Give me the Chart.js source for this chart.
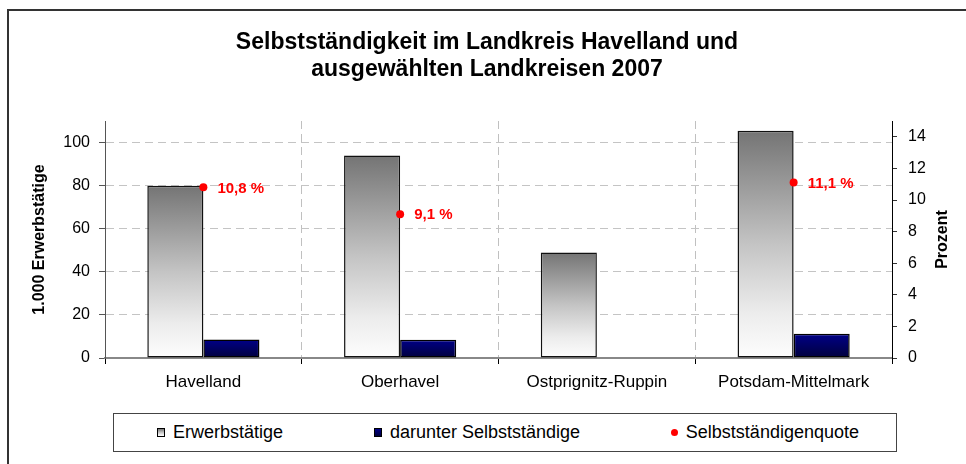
<!DOCTYPE html>
<html lang="de">
<head>
<meta charset="utf-8">
<title>Selbstständigkeit im Landkreis Havelland</title>
<script src="https://cdn.jsdelivr.net/npm/chart.js@4.4.1/dist/chart.umd.min.js"></script>
<style>
    html, body { margin: 0; padding: 0; background: #fff; overflow: hidden; }
    #page { position: relative; width: 966px; height: 464px; overflow: hidden; }
    #frame { position: absolute; left: 7px; top: 9px; width: 1100px; height: 600px;
             border-left: 2px solid #333; border-top: 2px solid #333; }
    #chart { position: absolute; left: 0; top: 0; }
    #legend { position: absolute; left: 113px; top: 413px; width: 784px; height: 39px;
              box-sizing: border-box; border: 1px solid #444; background: #fff;
              display: flex; align-items: center; justify-content: space-between;
              padding: 0 37px 0 43px;
              font: 18px 'Liberation Sans', Arial, sans-serif; color: #000; }
    #legend .item { display: flex; align-items: center; white-space: nowrap; }
    #legend .swatch { width: 8px; height: 9px; margin-right: 8px; box-sizing: border-box; border: 1px solid #000; }
    #legend .dot { width: 7px; height: 7px; margin-right: 8px; border-radius: 50%; }
</style>
</head>
<body>
<div id="page">
    <div id="frame"></div>
    <canvas id="chart" width="966" height="464"></canvas>
    <div id="legend"></div>
</div>
<script>
// Data
const categories = ['Havelland', 'Oberhavel', 'Ostprignitz-Ruppin', 'Potsdam-Mittelmark'];
const erwerbstaetige = [80, 94, 49, 105.5];       // 1.000 Erwerbstätige
const selbststaendige = [8.6, 8.5, null, 11.3];   // darunter Selbstständige
const quote = [10.8, 9.1, null, 11.1];            // Selbstständigenquote in %
const seriesLabels = ['Erwerbstätige', 'darunter Selbstständige', 'Selbstständigenquote'];
const titleLines = ['Selbstständigkeit im Landkreis Havelland und', 'ausgewählten Landkreisen 2007'];
const leftAxisTitle = '1.000 Erwerbstätige';
const rightAxisTitle = 'Prozent';
const leftMax = 110, leftStep = 20;
const rightMax = 15, rightStep = 2;

const FONT = "'Liberation Sans', Arial, sans-serif";
Chart.defaults.font.family = FONT;
Chart.defaults.color = '#000';

const grayStops = [[0, '#747474'], [0.5, '#c4c4c4'], [0.8, '#ececec'], [1, '#fdfdfd']];
const navyStops = [[0, '#000088'], [1, '#00003c']];

// vertical gradient per bar, from its top down to zero
function barGradient(stops) {
    return function(context) {
        const chart = context.chart;
        if (!chart.chartArea || context.raw == null) return stops[0][1];
        const scale = chart.scales.y;
        const top = scale.getPixelForValue(context.raw);
        const bottom = scale.getPixelForValue(0);
        const g = chart.ctx.createLinearGradient(0, top, 0, bottom);
        stops.forEach(s => g.addColorStop(s[0], s[1]));
        return g;
    };
}

// red percentage labels next to the points
const quoteLabels = {
    id: 'quoteLabels',
    afterDatasetsDraw(chart) {
        const meta = chart.getDatasetMeta(2);
        const ctx = chart.ctx;
        ctx.save();
        ctx.font = 'bold 15px ' + FONT;
        ctx.fillStyle = '#ff0000';
        ctx.textAlign = 'left';
        ctx.textBaseline = 'middle';
        meta.data.forEach((pt, i) => {
            const v = quote[i];
            if (v == null) return;
            ctx.fillText(v.toFixed(1).replace('.', ',') + ' %', pt.x + 14, pt.y + 1);
        });
        ctx.restore();
    }
};

// right axis title, reading bottom to top
const rightTitle = {
    id: 'rightTitle',
    afterDraw(chart) {
        const area = chart.chartArea;
        const ctx = chart.ctx;
        ctx.save();
        ctx.translate(chart.scales.y1.right - 23, (area.top + area.bottom) / 2);
        ctx.rotate(-Math.PI / 2);
        ctx.font = 'bold 16px ' + FONT;
        ctx.fillStyle = '#000';
        ctx.textAlign = 'center';
        ctx.textBaseline = 'middle';
        ctx.fillText(rightAxisTitle, 0, 0);
        ctx.restore();
    }
};

const chart = new Chart(document.getElementById('chart'), {
    type: 'bar',
    data: {
        labels: categories,
        datasets: [{
            label: seriesLabels[0],
            data: erwerbstaetige,
            yAxisID: 'y',
            backgroundColor: barGradient(grayStops),
            borderColor: '#111',
            borderWidth: 1.5,
            borderSkipped: false,
            categoryPercentage: 0.57,
            barPercentage: 1,
            order: 1
        }, {
            label: seriesLabels[1],
            data: selbststaendige,
            yAxisID: 'y',
            backgroundColor: barGradient(navyStops),
            borderColor: '#000',
            borderWidth: 1.5,
            borderSkipped: false,
            categoryPercentage: 0.57,
            barPercentage: 1,
            order: 1
        }, {
            type: 'line',
            label: seriesLabels[2],
            data: quote,
            yAxisID: 'y1',
            showLine: false,
            pointRadius: 4,
            pointBackgroundColor: '#ff0000',
            pointBorderWidth: 0,
            order: -1
        }]
    },
    options: {
        responsive: false,
        animation: false,
        layout: { padding: { left: 8, top: 10, right: 0, bottom: 66 } },
        plugins: {
            legend: { display: false },
            tooltip: { enabled: false },
            title: {
                display: true,
                text: titleLines,
                color: '#000',
                font: { size: 23, weight: 'bold', lineHeight: 1.174 },
                padding: { top: 19.5, bottom: 37.5 }
            }
        },
        scales: {
            x: {
                afterFit: scale => { scale.height = 40; },
                grid: {
                    offset: true,
                    color: c => (c.type === 'tick' && c.index > 0) ? '#c0c0c0' : 'rgba(0,0,0,0)',
                    tickColor: '#000',
                    tickLength: 6,
                    tickBorderDash: []
                },
                border: { color: '#888', width: 2, dash: [8, 5] },
                ticks: { font: { size: 17 }, padding: 8, color: '#000' }
            },
            y: {
                position: 'left',
                min: 0,
                max: leftMax,
                afterFit: scale => { scale.width = 97; },
                ticks: { stepSize: leftStep, includeBounds: false, font: { size: 16 }, padding: 9, color: '#000' },
                grid: {
                    color: '#c4c4c4',
                    lineWidth: 1,
                    tickColor: '#555',
                    tickLength: 6,
                    tickBorderDash: []
                },
                border: { color: '#555', width: 1, dash: [8, 5] },
                title: {
                    display: true,
                    text: leftAxisTitle,
                    font: { size: 16, weight: 'bold' },
                    padding: { top: 22.4, bottom: 0 }
                }
            },
            y1: {
                position: 'right',
                min: 0,
                max: rightMax,
                afterFit: scale => { scale.width = 74; },
                ticks: { stepSize: rightStep, includeBounds: false, font: { size: 16 }, padding: 11, color: '#000' },
                grid: {
                    drawOnChartArea: false,
                    color: '#333',
                    tickColor: '#333',
                    tickLength: 5
                },
                border: { color: '#000', width: 1 }
            }
        }
    },
    plugins: [quoteLabels, rightTitle]
});

// HTML legend in its own framed box
function buildLegend(chart) {
    const box = document.getElementById('legend');
    box.innerHTML = '';
    chart.data.datasets.forEach((ds, i) => {
        const item = document.createElement('div');
        item.className = 'item';
        const mark = document.createElement('span');
        if (ds.type === 'line') {
            mark.className = 'dot';
            mark.style.background = ds.pointBackgroundColor;
        } else {
            mark.className = 'swatch';
            const stops = i === 0 ? grayStops : navyStops;
            mark.style.background = 'linear-gradient(' + stops.map(s => s[1] + ' ' + (s[0] * 100) + '%').join(', ') + ')';
        }
        const text = document.createElement('span');
        text.textContent = ds.label;
        item.appendChild(mark);
        item.appendChild(text);
        box.appendChild(item);
    });
}
buildLegend(chart);
</script>
</body>
</html>
